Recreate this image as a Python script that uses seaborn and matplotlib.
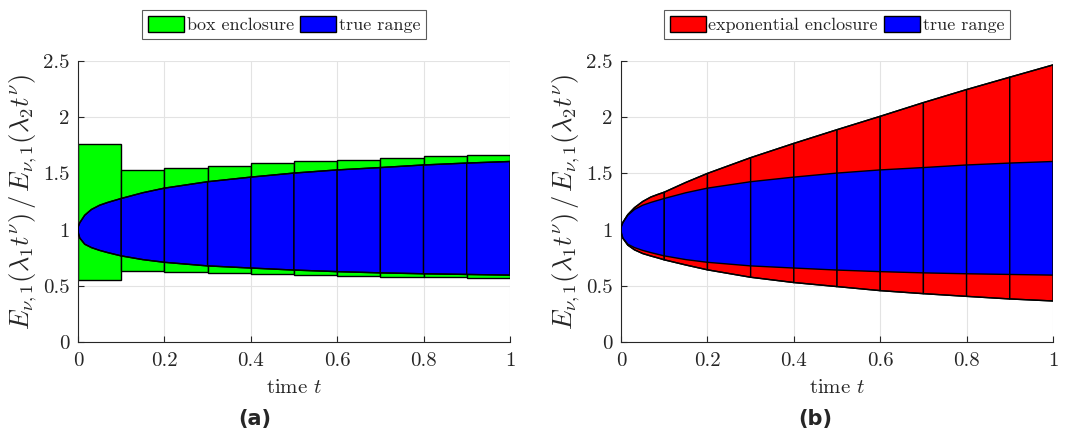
import numpy as np
import pandas as pd
import matplotlib
matplotlib.use("Agg")
import matplotlib.pyplot as plt
import seaborn as sns
from matplotlib.patches import Patch

# ---------------- data ----------------
t_curve = [0.0, 0.0008, 0.004, 0.0155, 0.031, 0.05, 0.069, 0.085, 0.1, 0.15,
           0.2, 0.3, 0.4, 0.5, 0.6, 0.7, 0.8, 0.9, 1.0]
true_upper = [1.0, 1.030, 1.061, 1.128, 1.179, 1.217, 1.242, 1.260, 1.277, 1.328,
              1.369, 1.426, 1.467, 1.503, 1.531, 1.552, 1.575, 1.592, 1.606]
true_lower = [1.0, 0.968, 0.925, 0.870, 0.840, 0.815, 0.795, 0.780, 0.766, 0.733,
              0.709, 0.677, 0.658, 0.640, 0.626, 0.615, 0.607, 0.601, 0.595]

exp_upper = [1.0, 1.030, 1.063, 1.133, 1.195, 1.250, 1.290, 1.313, 1.333, 1.420,
             1.500, 1.640, 1.767, 1.889, 2.008, 2.130, 2.246, 2.356, 2.465]
exp_lower = [1.0, 0.968, 0.924, 0.862, 0.820, 0.787, 0.765, 0.748, 0.731, 0.685,
             0.642, 0.576, 0.529, 0.493, 0.457, 0.430, 0.406, 0.383, 0.365]

box_left = [0.0, 0.1, 0.2, 0.3, 0.4, 0.5, 0.6, 0.7, 0.8, 0.9]
box_upper = [1.765, 1.533, 1.547, 1.569, 1.589, 1.607, 1.622, 1.640, 1.652, 1.667]
box_lower = [0.553, 0.633, 0.624, 0.615, 0.606, 0.597, 0.588, 0.582, 0.579, 0.573]

interval_edges = [0.0, 0.1, 0.2, 0.3, 0.4, 0.5, 0.6, 0.7, 0.8, 0.9, 1.0]

x_ticks = [0, 0.2, 0.4, 0.6, 0.8, 1]
x_ticklabels = ["0", "0.2", "0.4", "0.6", "0.8", "1"]
y_ticks = [0, 0.5, 1, 1.5, 2, 2.5]
y_ticklabels = ["0", "0.5", "1", "1.5", "2", "2.5"]

GREEN = "#00ff00"
BLUE = "#0000ff"
RED = "#ff0000"

sns.set_theme(style="whitegrid")
plt.rcParams.update({
    "font.family": "serif",
    "font.serif": ["cmr10", "DejaVu Serif"],
    "mathtext.fontset": "cm",
    "axes.formatter.use_mathtext": True,
    "axes.edgecolor": "#262626",
    "grid.color": "#e3e3e3",
    "grid.linewidth": 0.8,
    "xtick.direction": "in",
    "ytick.direction": "in",
})

df = pd.DataFrame({"t": t_curve, "tu": true_upper, "tl": true_lower,
                   "eu": exp_upper, "el": exp_lower})
tc = np.array(t_curve)

fig = plt.figure(figsize=(10.69, 4.36), dpi=100)
ax1 = fig.add_axes([0.073, 0.2156, 0.404, 0.6445])
ax2 = fig.add_axes([0.581, 0.2156, 0.404, 0.6445])


def fill_intervals(ax, up, lo, color, z):
    up = np.array(up)
    lo = np.array(lo)
    for a, b in zip(interval_edges[:-1], interval_edges[1:]):
        m = (tc >= a - 1e-9) & (tc <= b + 1e-9)
        xs = tc[m]
        poly_x = np.concatenate([xs, xs[::-1]])
        poly_y = np.concatenate([up[m], lo[m][::-1]])
        ax.fill(poly_x, poly_y, facecolor=color, edgecolor="black",
                linewidth=1.0, zorder=z)


# ---- panel (a) ----
heights = np.array(box_upper) - np.array(box_lower)
ax1.bar(box_left, heights, width=0.1, bottom=box_lower, align="edge",
        color=GREEN, edgecolor="black", linewidth=1.0, zorder=2)
fill_intervals(ax1, true_upper, true_lower, BLUE, 3)
sns.lineplot(data=df, x="t", y="tu", ax=ax1, color="black", lw=1.0, zorder=4)
sns.lineplot(data=df, x="t", y="tl", ax=ax1, color="black", lw=1.0, zorder=4)

# ---- panel (b) ----
fill_intervals(ax2, exp_upper, exp_lower, RED, 2)
fill_intervals(ax2, true_upper, true_lower, BLUE, 3)
sns.lineplot(data=df, x="t", y="eu", ax=ax2, color="black", lw=1.0, zorder=4)
sns.lineplot(data=df, x="t", y="el", ax=ax2, color="black", lw=1.0, zorder=4)

ylab = r"$E_{\nu,1}(\lambda_1 t^{\nu})\,/\,E_{\nu,1}(\lambda_2 t^{\nu})$"
for ax in (ax1, ax2):
    ax.set_xlim(0, 1)
    ax.set_ylim(0, 2.5)
    ax.set_xticks(x_ticks)
    ax.set_xticklabels(x_ticklabels)
    ax.set_yticks(y_ticks)
    ax.set_yticklabels(y_ticklabels)
    ax.tick_params(labelsize=15, length=4, width=0.8, color="#262626",
                   left=True, bottom=True)
    ax.tick_params(axis="x", pad=7)
    ax.tick_params(axis="y", pad=6)
    ax.set_xlabel(r"time $t$", fontsize=15, labelpad=7)
    ax.set_ylabel(ylab, fontsize=19, labelpad=3)
    ax.spines["top"].set_visible(False)
    ax.spines["right"].set_visible(False)
    ax.spines["left"].set_linewidth(0.8)
    ax.spines["bottom"].set_linewidth(0.8)
    ax.set_axisbelow(True)

h1 = [Patch(facecolor=GREEN, edgecolor="black", label="box enclosure"),
      Patch(facecolor=BLUE, edgecolor="black", label="true range")]
h2 = [Patch(facecolor=RED, edgecolor="black", label="exponential enclosure"),
      Patch(facecolor=BLUE, edgecolor="black", label="true range")]
for ax, h, cx in ((ax1, h1, 0.477), (ax2, h2, 0.5)):
    leg = ax.legend(handles=h, loc="center", bbox_to_anchor=(cx, 1.13),
                    ncol=2, fontsize=13, frameon=True, fancybox=False,
                    handlelength=2.0, handleheight=1.05, handletextpad=0.15,
                    columnspacing=0.35, borderpad=0.3, borderaxespad=0)
    leg.get_frame().set_edgecolor("#333333")
    leg.get_frame().set_linewidth(0.8)

fig.text(0.2385, 0.015, "(a)", ha="center", va="bottom", fontsize=15,
         family="DejaVu Sans", fontweight="bold")
fig.text(0.7625, 0.015, "(b)", ha="center", va="bottom", fontsize=15,
         family="DejaVu Sans", fontweight="bold")

fig.savefig("out.png", dpi=100)
